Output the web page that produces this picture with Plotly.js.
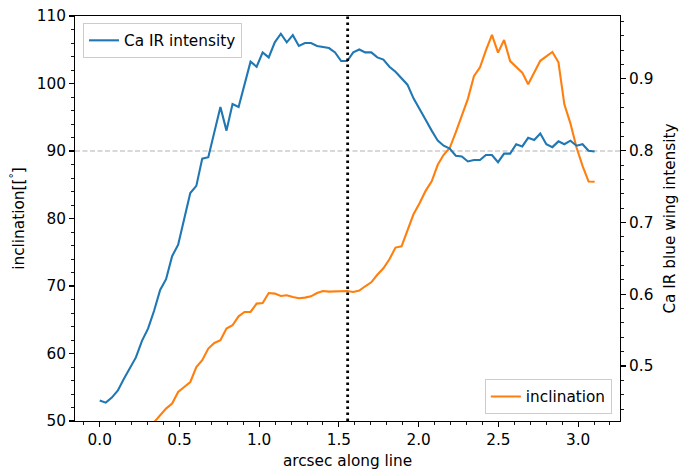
<!DOCTYPE html>
<html>
<head>
<meta charset="utf-8">
<script src="https://cdn.plot.ly/plotly-3.0.1.min.js"></script>
<style>html,body{margin:0;padding:0;background:#fff;}#chart{width:691px;height:470px;}</style>
</head>
<body>
<div id="chart"></div>
<script>
// arcsec along the line
const arcsec = [0.000,0.038,0.076,0.114,0.151,0.189,0.227,0.265,0.303,0.341,
  0.379,0.416,0.454,0.492,0.530,0.568,0.606,0.643,0.681,0.719,
  0.757,0.795,0.833,0.871,0.908,0.946,0.984,1.022,1.060,1.098,
  1.136,1.173,1.211,1.249,1.287,1.325,1.363,1.400,1.438,1.476,
  1.514,1.552,1.590,1.628,1.665,1.703,1.741,1.779,1.817,1.855,
  1.893,1.930,1.968,2.006,2.044,2.082,2.120,2.157,2.195,2.233,
  2.271,2.309,2.347,2.385,2.422,2.460,2.498,2.536,2.574,2.612,
  2.650,2.687,2.725,2.763,2.801,2.839,2.877,2.914,2.952,2.990,
  3.028,3.066,3.104];

// Ca IR blue wing intensity (right axis)
const caIntensity = [0.452,0.449,0.456,0.466,0.482,0.498,0.512,0.535,0.552,0.577,
  0.606,0.621,0.653,0.669,0.705,0.741,0.751,0.789,0.791,0.826,
  0.861,0.828,0.865,0.861,0.893,0.924,0.917,0.937,0.930,0.951,
  0.963,0.951,0.961,0.946,0.950,0.950,0.946,0.945,0.943,0.937,
  0.925,0.925,0.937,0.941,0.937,0.937,0.930,0.927,0.917,0.910,
  0.901,0.892,0.873,0.859,0.843,0.828,0.814,0.807,0.803,0.793,
  0.792,0.785,0.787,0.787,0.794,0.794,0.784,0.796,0.796,0.809,
  0.806,0.818,0.815,0.824,0.809,0.805,0.813,0.809,0.814,0.807,
  0.809,0.800,0.799];

// inclination in degrees (left axis); early points lie below the axis range
const inclination = [null,null,null,null,null,null,null,null,48.8,49.8,
  50.84,51.84,52.58,54.30,55.04,55.78,58.00,59.00,60.73,61.56,
  61.96,63.69,64.18,65.51,66.15,66.15,67.39,67.48,68.96,68.87,
  68.52,68.62,68.37,68.18,68.28,68.47,68.96,69.26,69.17,69.21,
  69.26,69.26,69.11,69.32,69.96,70.55,71.66,72.62,73.96,75.69,
  75.88,78.15,80.62,82.25,84.10,85.51,87.96,89.44,90.44,92.77,
  95.14,97.73,101.07,102.40,104.92,107.21,104.58,106.44,103.32,102.40,
  101.61,99.88,101.66,103.36,104.03,104.67,103.14,96.92,94.10,90.55,
  87.81,85.48,85.44];

const markerPosition = 1.555;   // dotted vertical line
const referenceIncl = 90;       // dashed horizontal line

const FONT = 'DejaVu Sans, sans-serif';
const FS = 15.3;

const traces = [
  {x: arcsec, y: inclination, type: 'scatter', mode: 'lines', name: 'inclination',
   line: {color: '#ff7f0e', width: 2.1}, yaxis: 'y', legend: 'legend2', showlegend: true},
  {x: arcsec, y: caIntensity, type: 'scatter', mode: 'lines', name: 'Ca IR intensity',
   line: {color: '#1f77b4', width: 2.1}, yaxis: 'y2', legend: 'legend', showlegend: true}
];

const tickCommon = {
  ticks: 'outside', ticklen: 4.9, tickwidth: 1.1, tickcolor: '#000',
  showline: true, linecolor: '#000', linewidth: 1.1,
  showgrid: false, zeroline: false,
  tickfont: {family: FONT, size: FS, color: '#000'}
};

const layout = {
  width: 691, height: 470,
  margin: {l: 75, r: 71, t: 16, b: 49},
  paper_bgcolor: '#fff', plot_bgcolor: '#fff',
  font: {family: FONT, size: FS, color: '#000'},
  showlegend: true,
  xaxis: Object.assign({}, tickCommon, {
    range: [-0.155, 3.263], tick0: 0, dtick: 0.5, tickformat: '.1f', mirror: true,
    minor: {dtick: 0.1, tick0: 0, ticks: 'outside', ticklen: 2.8, tickwidth: 0.9, tickcolor: '#000'},
    title: {text: 'arcsec along line', font: {family: FONT, size: FS, color: '#000'}, standoff: 7}
  }),
  yaxis: Object.assign({}, tickCommon, {
    range: [50, 110], tick0: 50, dtick: 10,
    minor: {dtick: 2, tick0: 50, ticks: 'outside', ticklen: 2.8, tickwidth: 0.9, tickcolor: '#000'},
    title: {text: 'inclination[[<sup>°</sup>]', font: {family: FONT, size: FS, color: '#000'}, standoff: 8}
  }),
  yaxis2: Object.assign({}, tickCommon, {
    overlaying: 'y', side: 'right',
    range: [0.4234, 0.9877], tick0: 0.5, dtick: 0.1, tickformat: '.1f',
    minor: {dtick: 0.02, tick0: 0.5, ticks: 'outside', ticklen: 2.8, tickwidth: 0.9, tickcolor: '#000'},
    title: {text: 'Ca IR blue wing intensity', font: {family: FONT, size: FS, color: '#000'}, standoff: 11}
  }),
  legend: {
    x: 0.0147, y: 0.983, xanchor: 'left', yanchor: 'top',
    bgcolor: 'rgba(255,255,255,0.8)', bordercolor: '#cccccc', borderwidth: 1,
    font: {family: FONT, size: FS, color: '#000'}
  },
  legend2: {
    x: 0.985, y: 0.0173, xanchor: 'right', yanchor: 'bottom',
    bgcolor: 'rgba(255,255,255,0.8)', bordercolor: '#cccccc', borderwidth: 1,
    font: {family: FONT, size: FS, color: '#000'}
  },
  shapes: [
    {type: 'line', xref: 'paper', x0: 0, x1: 1, yref: 'y', y0: referenceIncl, y1: referenceIncl,
     line: {color: '#cccccc', width: 1.4, dash: '5px,2.5px'}, layer: 'below'},
    {type: 'line', xref: 'x', x0: markerPosition, x1: markerPosition, yref: 'paper', y0: 0, y1: 1,
     line: {color: '#000', width: 2.8, dash: '2.5px,3.5px'}, layer: 'above'}
  ]
};

Plotly.newPlot('chart', traces, layout, {displayModeBar: false, staticPlot: true});
</script>
</body>
</html>
